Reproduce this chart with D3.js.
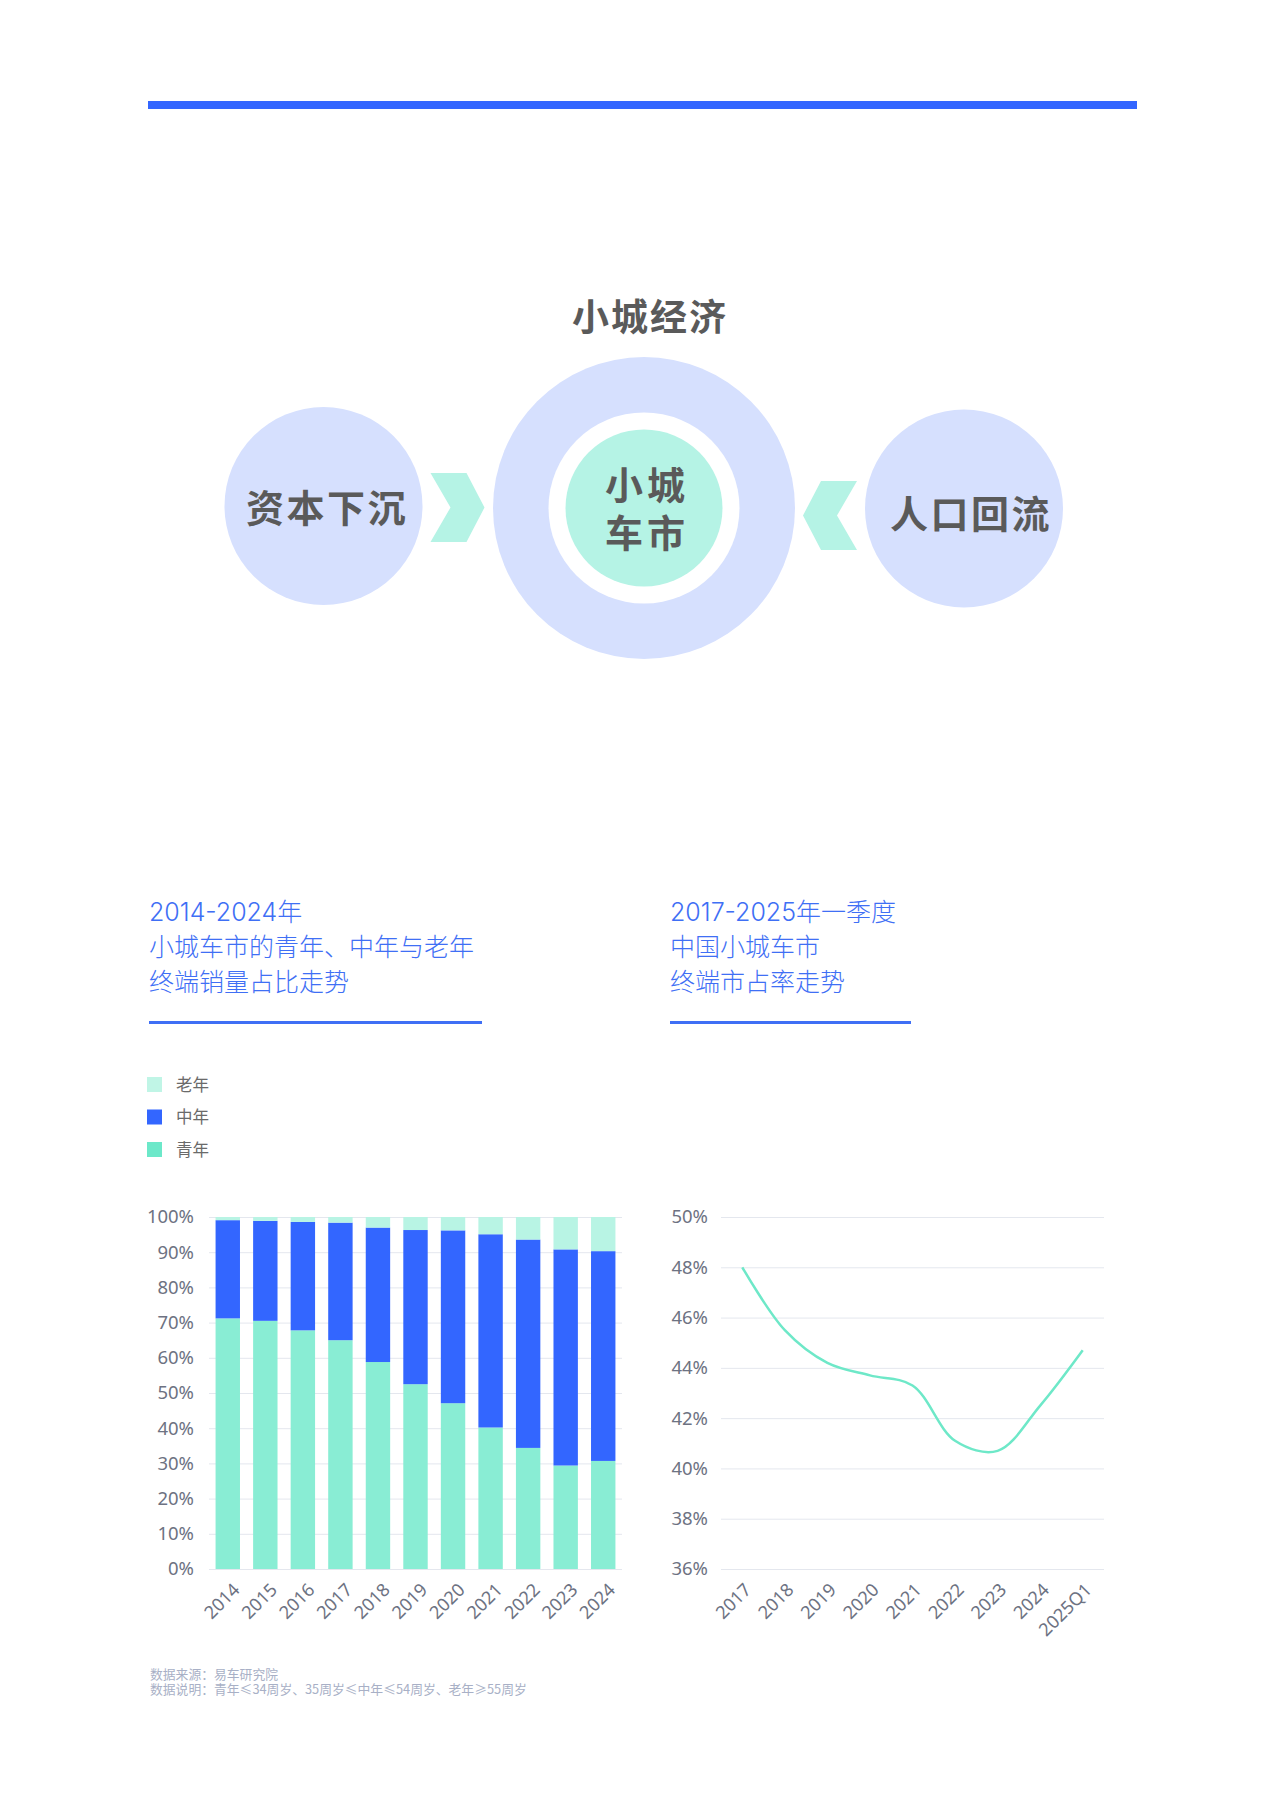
<!DOCTYPE html>
<html>
<head>
<meta charset="utf-8">
<script src="https://cdn.jsdelivr.net/npm/d3@7"></script>
<style>
  body { margin: 0; background: #fff; }
  svg { display: block; font-family: "Noto Sans CJK SC", "Noto Sans", sans-serif; }
</style>
</head>
<body>
<svg id="page" width="1280" height="1798"></svg>
<script>
/*
 * 小城车市 – 信息图
 * Oben: Schema, unten links: gestapelte Säulen, unten rechts: Linie
 */

// ---------- Daten ----------
var years = ["2014", "2015", "2016", "2017", "2018", "2019", "2020", "2021", "2022", "2023", "2024"];
var youngShare  = [71.2, 70.5, 67.8, 65.0, 58.8, 52.5, 47.1, 40.2, 34.4, 29.4, 30.7];
var middleShare = [27.9, 28.4, 30.8, 33.4, 38.2, 43.8, 49.1, 54.9, 59.2, 61.4, 59.6];
var oldShare    = [0.9, 1.1, 1.4, 1.6, 3.0, 3.7, 3.8, 4.9, 6.4, 9.2, 9.7];
var barTicks = [0, 10, 20, 30, 40, 50, 60, 70, 80, 90, 100];

var seriesKeys   = ["young", "middle", "old"];
var seriesNames  = {young: "青年", middle: "中年", old: "老年"};
var legendOrder  = ["old", "middle", "young"];

var periods = ["2017", "2018", "2019", "2020", "2021", "2022", "2023", "2024", "2025Q1"];
var marketShare = [48.0, 45.5, 44.2, 43.7, 43.3, 41.1, 40.7, 42.5, 44.7];
var lineTicks = [36, 38, 40, 42, 44, 46, 48, 50];

var leftTitle  = ["2014-2024年", "小城车市的青年、中年与老年", "终端销量占比走势"];
var rightTitle = ["2017-2025年一季度", "中国小城车市", "终端市占率走势"];
var centerLabel = ["小城", "车市"];
var notes = ["数据来源：易车研究院", "数据说明：青年≤34周岁、35周岁≤中年≤54周岁、老年≥55周岁"];

// Farben
var BLUE = "#3366ff";
var TITLE_BLUE = "#3f6ff5";
var LAVENDER = "#d6e0fe";
var MINT = "#b5f3e5";
var DARK = "#5a5a5a";
var TICK = "#6d7282";
var GRID = "#e4e7ee";
var barColor    = {young: "#89edd4", middle: "#3366ff", old: "#b8f4e4"};
var legendColor = {young: "#6ce8c9", middle: "#3366ff", old: "#c0f5e6"};

var svg = d3.select("#page");

// ---------- Kopfbalken ----------
svg.append("rect")
  .attr("x", 148).attr("y", 101)
  .attr("width", 989).attr("height", 8)
  .attr("fill", BLUE);

// ---------- Schema ----------
var schema = svg.append("g");

schema.append("text")
  .attr("x", 650).attr("y", 331)
  .attr("text-anchor", "middle")
  .attr("font-size", 37).attr("font-weight", "bold")
  .attr("letter-spacing", 2)
  .attr("fill", DARK)
  .text("小城经济");

// Kreise
schema.append("circle").attr("cx", 644).attr("cy", 508).attr("r", 151).attr("fill", LAVENDER);
schema.append("circle").attr("cx", 644).attr("cy", 508).attr("r", 95.5).attr("fill", "#fff");
schema.append("circle").attr("cx", 644).attr("cy", 508).attr("r", 78.5).attr("fill", MINT);
schema.append("circle").attr("cx", 323.5).attr("cy", 506).attr("r", 99).attr("fill", LAVENDER);
schema.append("circle").attr("cx", 964).attr("cy", 508.5).attr("r", 99).attr("fill", LAVENDER);

// Pfeile (Chevrons), dir = 1 nach rechts, -1 nach links
function chevron(cx, cy, dir) {
  var w = 54, h = 69, notch = 20, tip = 18;
  var x0 = cx - dir * w / 2, x1 = cx + dir * w / 2;
  var pts = [
    [x0, cy - h / 2],
    [x1 - dir * tip, cy - h / 2],
    [x1, cy],
    [x1 - dir * tip, cy + h / 2],
    [x0, cy + h / 2],
    [x0 + dir * notch, cy]
  ];
  schema.append("polygon")
    .attr("points", pts.map(function(p) { return p.join(","); }).join(" "))
    .attr("fill", MINT);
}
chevron(457.5, 507.5, 1);
chevron(830, 515.5, -1);

function boldLabel(x, y, txt, size, spacing) {
  return schema.append("text")
    .attr("x", x).attr("y", y)
    .attr("text-anchor", "middle")
    .attr("font-size", size).attr("font-weight", "bold")
    .attr("letter-spacing", spacing)
    .attr("fill", DARK)
    .text(txt);
}
boldLabel(327, 522, "资本下沉", 38, 2.5);
boldLabel(971, 528, "人口回流", 38, 2.5);

// Mitte: zwei Zeilen in einem Text
boldLabel(647, 499, "", 38, 4)
  .selectAll("tspan").data(centerLabel).join("tspan")
  .attr("x", 647)
  .attr("dy", function(d, i) { return i === 0 ? 0 : 48; })
  .text(function(d) { return d; });

// ---------- Überschriften ----------
function blockTitle(x, lines, lineWidth) {
  var g = svg.append("g");
  g.selectAll("text").data(lines).join("text")
    .attr("x", x)
    .attr("y", function(d, i) { return 921 + i * 35; })
    .attr("font-size", 25)
    .attr("font-family", "Inter, 'Noto Sans CJK SC', sans-serif")
    .attr("font-weight", 300)
    .attr("fill", TITLE_BLUE)
    .text(function(d) { return d; });
  g.append("rect")
    .attr("x", x).attr("y", 1021)
    .attr("width", lineWidth).attr("height", 3)
    .attr("fill", TITLE_BLUE);
}
blockTitle(149, leftTitle, 333);
blockTitle(670, rightTitle, 241);

// ---------- Legende ----------
var legend = svg.append("g");
legendOrder.forEach(function(k, i) {
  var yy = 1077 + i * 32.5;
  legend.append("rect")
    .attr("x", 147).attr("y", yy)
    .attr("width", 15).attr("height", 15)
    .attr("fill", legendColor[k]);
  legend.append("text")
    .attr("x", 176).attr("y", yy + 13.5)
    .attr("font-size", 16.5)
    .attr("fill", "#6a6a6a")
    .text(seriesNames[k]);
});

// ---------- Säulendiagramm ----------
var table = years.map(function(y, i) {
  return {year: y, young: youngShare[i], middle: middleShare[i], old: oldShare[i]};
});
var stacked = d3.stack().keys(seriesKeys)(table);

var xBar = d3.scaleBand().domain(years).range([209, 622]).paddingInner(0.35).paddingOuter(0.175);
var yBar = d3.scaleLinear().domain([0, 100]).range([1569, 1217]);

var barAxis = svg.append("g")
  .attr("transform", "translate(209,0)")
  .call(d3.axisLeft(yBar).tickValues(barTicks).tickSize(-413).tickPadding(15)
    .tickFormat(function(d) { return d + "%"; }));
barAxis.select(".domain").remove();
barAxis.selectAll(".tick line").attr("stroke", GRID);
barAxis.selectAll(".tick text")
  .attr("fill", TICK).attr("font-size", 18.5)
  .attr("font-family", "Noto Sans, sans-serif");

svg.append("g").selectAll("g").data(stacked).join("g")
  .attr("fill", function(s) { return barColor[s.key]; })
  .selectAll("rect").data(function(s) { return s; }).join("rect")
  .attr("x", function(d) { return xBar(d.data.year); })
  .attr("y", function(d) { return yBar(d[1]); })
  .attr("width", xBar.bandwidth())
  .attr("height", function(d) { return yBar(d[0]) - yBar(d[1]); });

svg.append("g").selectAll("text").data(years).join("text")
  .attr("transform", function(d) {
    return "translate(" + (xBar(d) + xBar.bandwidth() / 2 + 13) + ",1591) rotate(-45)";
  })
  .attr("text-anchor", "end")
  .attr("font-size", 18)
  .attr("font-family", "Noto Sans, sans-serif")
  .attr("fill", TICK)
  .text(function(d) { return d; });

// ---------- Liniendiagramm ----------
var xLine = d3.scalePoint().domain(periods).range([721, 1104]).padding(0.5);
var yLine = d3.scaleLinear().domain([36, 50]).range([1569, 1217]);

var lineAxis = svg.append("g")
  .attr("transform", "translate(721,0)")
  .call(d3.axisLeft(yLine).tickValues(lineTicks).tickSize(-383).tickPadding(13)
    .tickFormat(function(d) { return d + "%"; }));
lineAxis.select(".domain").remove();
lineAxis.selectAll(".tick line").attr("stroke", GRID);
lineAxis.selectAll(".tick text")
  .attr("fill", TICK).attr("font-size", 18.5)
  .attr("font-family", "Noto Sans, sans-serif");

var line = d3.line()
  .x(function(d, i) { return xLine(periods[i]); })
  .y(function(d) { return yLine(d); })
  .curve(d3.curveCatmullRom.alpha(0.5));

svg.append("path")
  .datum(marketShare)
  .attr("d", line)
  .attr("fill", "none")
  .attr("stroke", "#6ee8c8")
  .attr("stroke-width", 2.5);

svg.append("g").selectAll("text").data(periods).join("text")
  .attr("transform", function(d) {
    return "translate(" + (xLine(d) + 10) + ",1591) rotate(-45)";
  })
  .attr("text-anchor", "end")
  .attr("font-size", 18)
  .attr("font-family", "Noto Sans, sans-serif")
  .attr("fill", TICK)
  .text(function(d) { return d; });

// ---------- Fußnote (ein Textblock, zwei Zeilen) ----------
svg.append("text")
  .attr("x", 150).attr("y", 1679)
  .attr("font-size", 12.8)
  .attr("fill", "#a8b0c6")
  .selectAll("tspan").data(notes).join("tspan")
  .attr("x", 150)
  .attr("dy", function(d, i) { return i === 0 ? 0 : 15; })
  .text(function(d) { return d; });
</script>
</body>
</html>
